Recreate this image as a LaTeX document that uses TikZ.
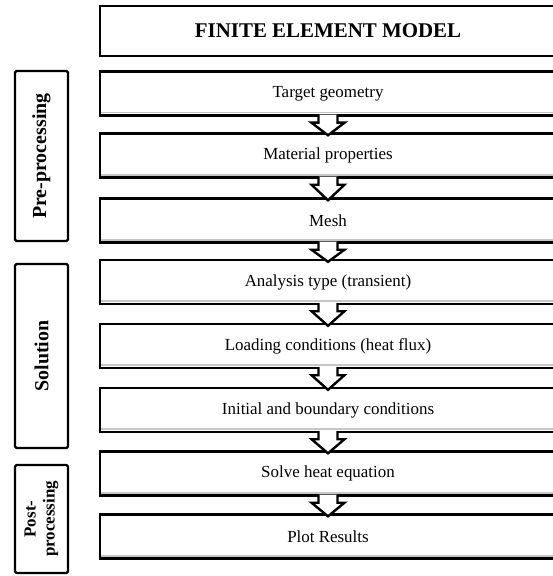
\documentclass[tikz,border=0pt]{standalone}
\usepackage{fontspec}
\setmainfont{Liberation Serif}
\usepackage{tikz}
\usetikzlibrary{calc}
\tikzset{
  stepbox/.style={draw,line width=2.4bp,minimum width=456bp,minimum height=44bp,inner sep=0pt,
    font=\fontsize{17}{20}\selectfont,
    path picture={\draw[gray!45,line width=1.6bp]
      ([yshift=2.8bp]path picture bounding box.south west) -- ([yshift=2.8bp]path picture bounding box.south east);}},
  titlebox/.style={draw,line width=2.4bp,minimum width=456bp,minimum height=50bp,inner sep=0pt,
    font=\fontsize{21}{24}\selectfont\bfseries},
  phasebox/.style={draw,line width=2.4bp,rotate=90,minimum height=53bp,inner sep=0pt,
    rounded corners=1.5bp,font=\fontsize{20}{22}\selectfont\bfseries},
  flowarr/.style={draw,fill=white,line width=2.4bp,line join=miter}
}
% hollow block arrow from the bottom of one box into the next
\newcommand{\flowarrow}[2]{\draw[flowarr] ($(#1.south)+(-9.5,2)$) -- ($(#1.south)+(-9.5,-6)$)
  -- ($(#1.south)+(-16.5,-6)$) -- ($(#2.north)+(0,-3)$) -- ($(#1.south)+(16.5,-6)$)
  -- ($(#1.south)+(9.5,-6)$) -- ($(#1.south)+(9.5,2)$);}
\begin{document}
\begin{tikzpicture}[x=1bp,y=1bp]
  \useasboundingbox (0,0) rectangle (553,-576);
  \node[titlebox] (fem) at (328,-31) {FINITE ELEMENT MODEL};
  \node[stepbox] (geom) at (328,-93.5) {Target geometry};
  \node[stepbox] (mat) at (328,-155.5) {Material properties};
  \node[stepbox] (mesh) at (328,-220.5) {Mesh};
  \node[stepbox] (analysis) at (328,-282) {Analysis type (transient)};
  \node[stepbox] (load) at (328,-346) {Loading conditions (heat flux)};
  \node[stepbox] (bc) at (328,-410) {Initial and boundary conditions};
  \node[stepbox] (solve) at (328,-473.5) {Solve heat equation};
  \node[stepbox] (plot) at (328,-536.5) {Plot Results};
  \flowarrow{geom}{mat}\flowarrow{mat}{mesh}\flowarrow{mesh}{analysis}
  \flowarrow{analysis}{load}\flowarrow{load}{bc}\flowarrow{bc}{solve}
  \flowarrow{solve}{plot}
  % phases on the left
  \node[phasebox,minimum width=170bp] (pre) at (41.5,-156) {Pre-processing};
  \node[phasebox,minimum width=184bp] (sol) at (41.5,-356) {Solution};
  \node[phasebox,minimum width=108bp,align=center,font=\fontsize{17}{19}\selectfont\bfseries] (post) at (41.5,-519) {Post-\\processing};
\end{tikzpicture}
\end{document}
